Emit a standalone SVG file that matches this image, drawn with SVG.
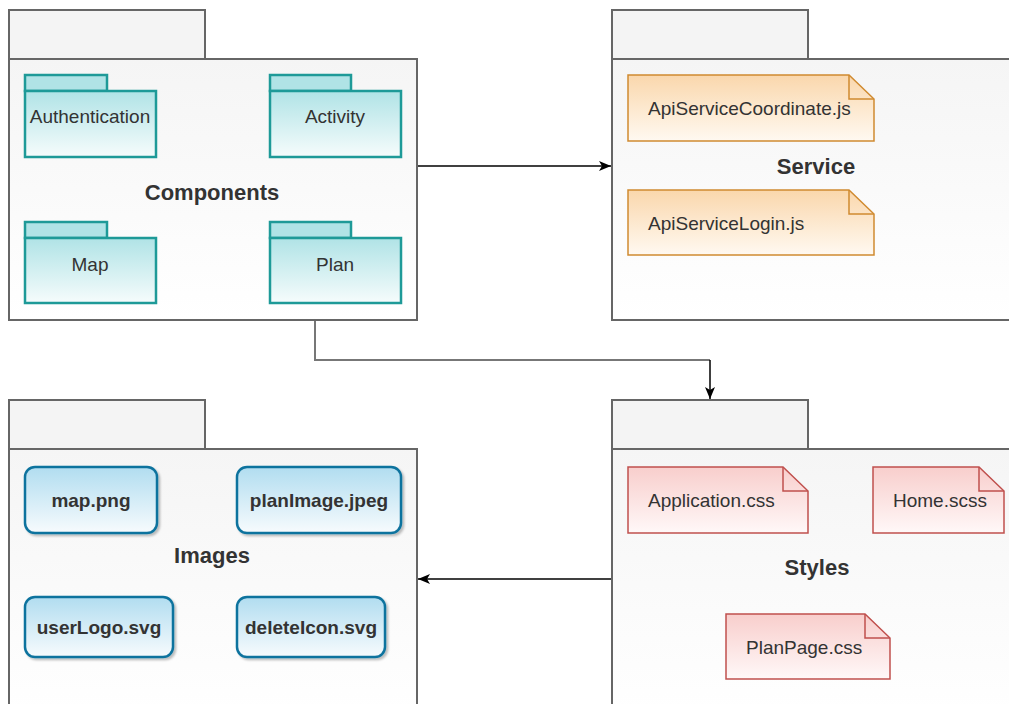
<svg xmlns="http://www.w3.org/2000/svg" width="1009" height="704" viewBox="0 0 1009 704">
<defs>
<linearGradient id="gPkg" x1="0" y1="0" x2="0" y2="1"><stop offset="0" stop-color="#f5f5f5"/><stop offset="1" stop-color="#ffffff"/></linearGradient>
<linearGradient id="gTeal" x1="0" y1="0" x2="0" y2="1"><stop offset="0" stop-color="#b0e3e6"/><stop offset="1" stop-color="#f6fcfc"/></linearGradient>
<linearGradient id="gBlue" x1="0" y1="0" x2="0" y2="1"><stop offset="0" stop-color="#b1ddf0"/><stop offset="1" stop-color="#f7fbfd"/></linearGradient>
<linearGradient id="gOrange" x1="0" y1="0" x2="0" y2="1"><stop offset="0" stop-color="#fad7ac"/><stop offset="1" stop-color="#fff9f1"/></linearGradient>
<linearGradient id="gRed" x1="0" y1="0" x2="0" y2="1"><stop offset="0" stop-color="#f8cecc"/><stop offset="1" stop-color="#fff8f8"/></linearGradient>
<filter id="sh" x="-10%" y="-10%" width="130%" height="130%"><feDropShadow dx="2" dy="2" stdDeviation="1.2" flood-color="#000" flood-opacity="0.25"/></filter>
<marker id="arr" viewBox="0 0 12 10" refX="12" refY="5" markerWidth="12" markerHeight="10" markerUnits="userSpaceOnUse" orient="auto">
<path d="M0,0 L12,5 L0,10 L3,5 Z" fill="#000"/>
</marker>
<style>
.pkg{fill:url(#gPkg);stroke:#666;stroke-width:2}
.tab{fill:#f4f4f4;stroke:#666;stroke-width:2}
.teal{fill:url(#gTeal);stroke:#1e9a98;stroke-width:2.5}
.tealtab{fill:#b0e3e6;stroke:#1e9a98;stroke-width:2.5}
.blue{fill:url(#gBlue);stroke:#10739e;stroke-width:2.5;filter:url(#sh)}
.orange{fill:url(#gOrange);stroke:#d08a30;stroke-width:1.5}
.red{fill:url(#gRed);stroke:#c0504d;stroke-width:1.5}
.fold{fill:none}
text{font-family:"Liberation Sans",Arial,sans-serif;fill:#333}
.lbl{font-size:19px;text-anchor:middle}
.lft{font-size:19px;text-anchor:start}
.bl{font-size:19px;font-weight:bold;text-anchor:middle}
.title{font-size:22px;font-weight:bold;text-anchor:middle}
.conn{fill:none;stroke:#000;stroke-width:1.5}
</style>
</defs>

<g id="components">
<rect class="tab" x="9" y="10" width="196" height="49"/>
<rect class="pkg" x="9" y="59" width="408" height="261"/>
<text class="title" x="212" y="200">Components</text>
</g>
<g id="authentication">
<rect class="tealtab" x="25" y="75" width="82" height="16"/>
<rect class="teal" x="25" y="91" width="131" height="66"/>
<text class="lbl" x="90" y="123">Authentication</text>
</g>
<g id="activity">
<rect class="tealtab" x="270" y="75" width="81" height="16"/>
<rect class="teal" x="270" y="91" width="131" height="66"/>
<text class="lbl" x="335" y="123">Activity</text>
</g>
<g id="map">
<rect class="tealtab" x="25" y="222" width="82" height="16"/>
<rect class="teal" x="25" y="238" width="131" height="65"/>
<text class="lbl" x="90" y="271">Map</text>
</g>
<g id="plan">
<rect class="tealtab" x="270" y="222" width="81" height="16"/>
<rect class="teal" x="270" y="238" width="131" height="65"/>
<text class="lbl" x="335" y="271">Plan</text>
</g>

<g id="service">
<rect class="tab" x="612" y="10" width="196" height="49"/>
<rect class="pkg" x="612" y="59" width="410" height="261"/>
<text class="title" x="816" y="174">Service</text>
</g>
<g id="apiServiceCoordinate">
<path class="orange" d="M628,75 H849 L874,99 V141 H628 Z"/>
<path class="orange fold" d="M849,75 V99 H874"/>
<text class="lft" x="648" y="115">ApiServiceCoordinate.js</text>
</g>
<g id="apiServiceLogin">
<path class="orange" d="M628,190 H849 L874,214 V255 H628 Z"/>
<path class="orange fold" d="M849,190 V214 H874"/>
<text class="lft" x="648" y="230">ApiServiceLogin.js</text>
</g>

<g id="images">
<rect class="tab" x="9" y="400" width="196" height="49"/>
<rect class="pkg" x="9" y="449" width="408" height="270"/>
<text class="title" x="212" y="563">Images</text>
</g>
<g id="mapPng">
<rect class="blue" x="25" y="467" width="132" height="66" rx="10"/>
<text class="bl" x="91" y="507">map.png</text>
</g>
<g id="planImage">
<rect class="blue" x="237" y="467" width="164" height="66" rx="10"/>
<text class="bl" x="319" y="507">planImage.jpeg</text>
</g>
<g id="userLogo">
<rect class="blue" x="25" y="597" width="148" height="60" rx="10"/>
<text class="bl" x="99" y="634">userLogo.svg</text>
</g>
<g id="deleteIcon">
<rect class="blue" x="237" y="597" width="148" height="60" rx="10"/>
<text class="bl" x="311" y="634">deleteIcon.svg</text>
</g>

<g id="styles">
<rect class="tab" x="612" y="400" width="196" height="49"/>
<rect class="pkg" x="612" y="449" width="410" height="270"/>
<text class="title" x="817" y="575">Styles</text>
</g>
<g id="applicationCss">
<path class="red" d="M628,467 H783 L808,491 V533 H628 Z"/>
<path class="red fold" d="M783,467 V491 H808"/>
<text class="lft" x="648" y="507">Application.css</text>
</g>
<g id="homeScss">
<path class="red" d="M873,467 H979 L1004,491 V533 H873 Z"/>
<path class="red fold" d="M979,467 V491 H1004"/>
<text class="lft" x="893" y="507">Home.scss</text>
</g>
<g id="planPageCss">
<path class="red" d="M726,614 H865 L890,638 V679 H726 Z"/>
<path class="red fold" d="M865,614 V638 H890"/>
<text class="lft" x="746" y="654">PlanPage.css</text>
</g>

<g id="connectors">
<line class="conn" x1="418" y1="166" x2="611" y2="166" marker-end="url(#arr)"/>
<path class="conn" d="M315,321 V360 H710" style="stroke:#777;stroke-width:2"/>
<path class="conn" d="M710,360 V399" marker-end="url(#arr)"/>
<line class="conn" x1="611" y1="579" x2="418" y2="579" marker-end="url(#arr)"/>
</g>
</svg>
